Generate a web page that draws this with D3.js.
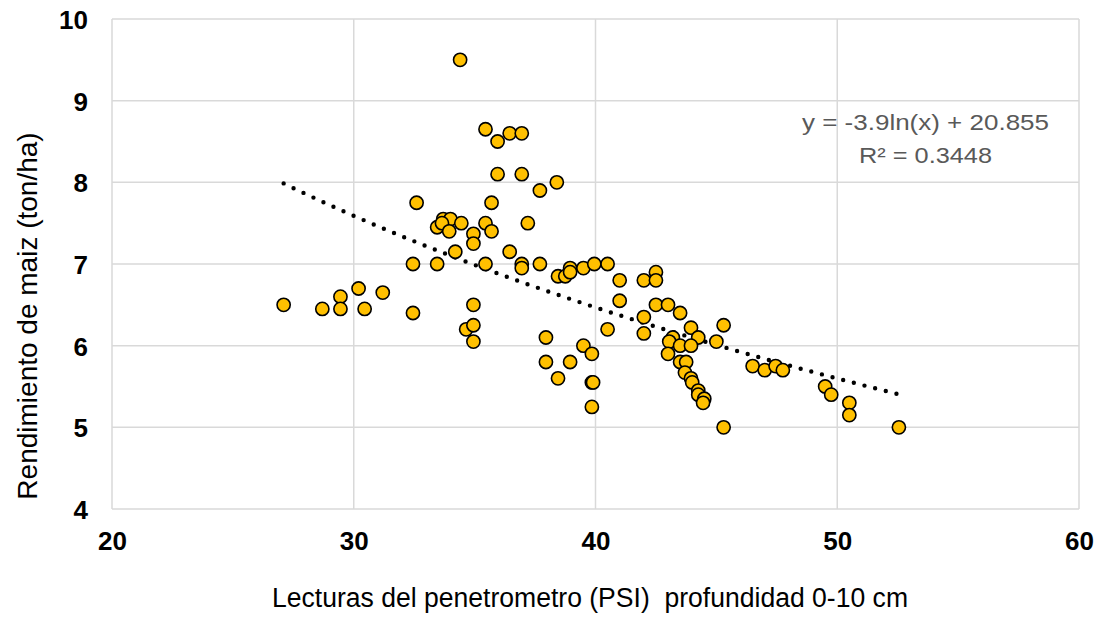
<!DOCTYPE html>
<html>
<head>
<meta charset="utf-8">
<script src="https://cdn.jsdelivr.net/npm/d3@7"></script>
<style>
  html, body { margin: 0; padding: 0; background: #fff; }
  svg { display: block; font-family: "Liberation Sans", Arial, sans-serif; }
</style>
</head>
<body>
<svg id="chart" width="1104" height="617"></svg>
<script>
// Penetrometer reading (PSI, 0-10 cm) vs. maize yield (ton/ha)
const psi = [
  27.1, 28.7, 29.45, 29.45, 30.2, 30.45, 31.2, 32.45, 32.45, 32.6,
  33.45, 33.45, 33.7, 34.0, 33.65, 33.95, 34.45, 34.95, 34.95, 34.2,
  35.45, 35.7, 35.7, 35.45, 34.95, 34.65, 34.95, 34.95, 36.45, 36.95,
  36.95, 37.2, 37.7, 37.7, 37.95, 37.95, 38.4, 38.45, 38.75, 38.95,
  38.95, 39.5, 39.95, 40.5, 41.0, 41.0, 40.5, 38.45, 38.95, 39.5,
  39.85, 39.85, 39.9, 39.85, 42.0, 42.5, 42.5, 42.0, 42.0, 42.5,
  43.0, 43.5, 43.95, 44.25, 43.2, 43.05, 43.5, 43.95, 43.0, 43.5,
  43.75, 43.7, 43.95, 44.0, 44.25, 44.25, 44.5, 44.45, 45.0, 45.3,
  45.3, 46.5, 47.0, 47.45, 47.75, 49.5, 49.75, 50.5, 50.5, 52.55,
  34.4, 35.45, 35.95, 36.45, 36.95, 35.95, 36.95
];
const yieldTon = [
  6.5, 6.45, 6.6, 6.45, 6.7, 6.45, 6.65, 7.0, 6.4, 7.75,
  7.0, 7.45, 7.55, 7.55, 7.5, 7.4, 7.5, 7.37, 7.25, 7.15,
  7.5, 7.4, 7.75, 7.0, 6.5, 6.2, 6.25, 6.05, 7.15, 7.0,
  6.95, 7.5, 7.0, 7.9, 6.1, 5.8, 8.0, 6.85, 6.85, 6.95,
  6.9, 6.95, 7.0, 7.0, 6.8, 6.55, 6.2, 5.6, 5.8, 6.0,
  5.9, 5.55, 5.55, 5.25, 6.8, 6.9, 6.8, 6.35, 6.15, 6.5,
  6.5, 6.4, 6.22, 6.1, 6.1, 6.05, 6.0, 6.0, 5.9, 5.8,
  5.8, 5.67, 5.6, 5.55, 5.45, 5.4, 5.35, 5.3, 6.05, 6.25,
  5.0, 5.75, 5.7, 5.75, 5.7, 5.5, 5.4, 5.3, 5.15, 5.0,
  9.5, 8.65, 8.5, 8.6, 8.6, 8.1, 8.1
];

const xTicks = [20, 30, 40, 50, 60];
const yTicks = [4, 5, 6, 7, 8, 9, 10];

// Logarithmic trend line y = a ln(x) + b
const trendA = -3.9;
const trendB = 20.855;
const trendLabel = "y = -3.9ln(x) + 20.855";
const r2Label = "R\u00b2 = 0.3448";

const xTitle = "Lecturas del penetrometro (PSI)  profundidad 0-10 cm";
const yTitle = "Rendimiento de maiz (ton/ha)";

const svg = d3.select("#chart");
const plot = { left: 112, right: 1079, top: 19, bottom: 509 };

const x = d3.scaleLinear().domain([20, 60]).range([plot.left, plot.right]);
const y = d3.scaleLinear().domain([4, 10]).range([plot.bottom, plot.top]);

// Gridlines
const grid = svg.append("g");
grid.selectAll("line.h").data(yTicks).join("line")
  .attr("class", "h")
  .attr("x1", plot.left).attr("x2", plot.right)
  .attr("y1", d => y(d)).attr("y2", d => y(d))
  .attr("stroke", "#d9d9d9").attr("stroke-width", 1.5);
grid.selectAll("line.v").data(xTicks).join("line")
  .attr("class", "v")
  .attr("y1", plot.top).attr("y2", plot.bottom)
  .attr("x1", d => x(d)).attr("x2", d => x(d))
  .attr("stroke", "#d9d9d9").attr("stroke-width", 1.5);

// Axes (labels only)
const xAxis = svg.append("g")
  .attr("transform", `translate(0,${plot.bottom + 20})`)
  .call(d3.axisBottom(x).tickValues(xTicks).tickSize(0).tickFormat(d3.format("d")));
const yAxis = svg.append("g")
  .attr("transform", `translate(91,0)`)
  .call(d3.axisLeft(y).tickValues(yTicks).tickSize(0).tickFormat(d3.format("d")));
[xAxis, yAxis].forEach(g => {
  g.select(".domain").remove();
  g.selectAll("text")
    .attr("fill", "#000")
    .style("font-size", "26px")
    .style("font-weight", "bold")
    .style("font-family", "'Liberation Sans', Arial, sans-serif");
});
yAxis.selectAll("text").attr("dy", "0.36em");

// Trend line (dotted)
const xs = d3.range(27.1, 52.56, 0.1);
const line = d3.line().x(d => x(d)).y(d => y(trendA * Math.log(d) + trendB));
svg.append("path")
  .datum(xs)
  .attr("d", line)
  .attr("fill", "none")
  .attr("stroke", "#000")
  .attr("stroke-width", 4.4)
  .attr("stroke-linecap", "round")
  .attr("stroke-dasharray", "0,11");

// Points
const pts = psi.map((v, i) => [v, yieldTon[i]]);
svg.append("g").selectAll("circle").data(pts).join("circle")
  .attr("cx", d => x(d[0]))
  .attr("cy", d => y(d[1]))
  .attr("r", 6.6)
  .attr("fill", "#FFC000")
  .attr("stroke", "#000")
  .attr("stroke-width", 1.6);

// Trend equation
svg.append("text")
  .attr("x", 802).attr("y", 130)
  .attr("fill", "#595959")
  .attr("textLength", 247)
  .attr("lengthAdjust", "spacingAndGlyphs")
  .style("font-size", "22px")
  .text(trendLabel);
svg.append("text")
  .attr("x", 859).attr("y", 163)
  .attr("fill", "#595959")
  .attr("textLength", 133)
  .attr("lengthAdjust", "spacingAndGlyphs")
  .style("font-size", "22px")
  .text(r2Label);

// Axis titles
svg.append("text")
  .attr("x", 272).attr("y", 607)
  .attr("fill", "#000")
  .attr("textLength", 636)
  .attr("lengthAdjust", "spacingAndGlyphs")
  .style("font-size", "27px")
  .style("white-space", "pre")
  .text(xTitle);
svg.append("text")
  .attr("transform", "translate(37,316) rotate(-90)")
  .attr("text-anchor", "middle")
  .attr("fill", "#000")
  .style("font-size", "28px")
  .text(yTitle);
</script>
</body>
</html>
